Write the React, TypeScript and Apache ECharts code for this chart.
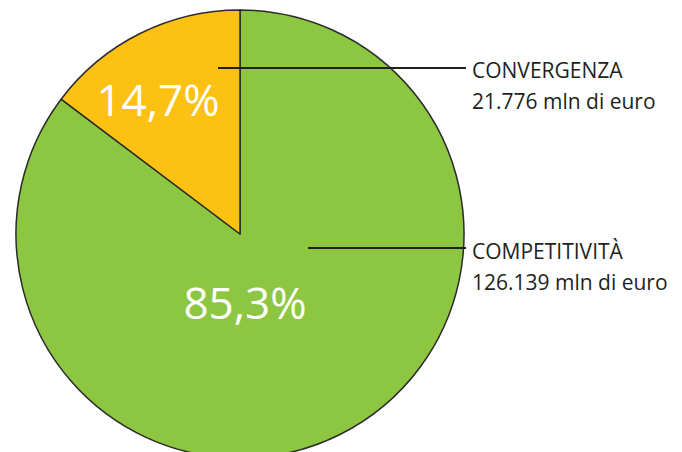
import React, { useEffect, useRef } from "react";
import * as echarts from "echarts";

const categories = ["COMPETITIVITÀ", "CONVERGENZA"];
const values = [126139, 21776];
const valueLabels = ["126.139 mln di euro", "21.776 mln di euro"];
const colors = ["#8DC641", "#FDC113"];

export default function App() {
  const ref = useRef<HTMLDivElement>(null);
  useEffect(() => {
    if (!ref.current) return;
    const chart = echarts.init(ref.current, null, { renderer: "svg" });
    const pctPos = [
      { x: 245, y: 302 },
      { x: 158, y: 99 },
    ];
    const callouts = [
      { x1: 308, y: 248, ty: 251 },
      { x1: 218, y: 68, ty: 70 },
    ];
    const graphics: any[] = [];
    categories.forEach((c, i) => {
      const co = callouts[i];
      graphics.push({
        type: "line",
        shape: { x1: co.x1, y1: co.y, x2: 466, y2: co.y },
        style: { stroke: "#231f20", lineWidth: 2 },
        z: 10,
      });
      graphics.push({
        type: "text",
        x: 472,
        y: co.ty,
        style: {
          text: c,
          fill: "#231f20",
          font: "21px 'Open Sans'",
          textVerticalAlign: "middle",
        },
      });
      graphics.push({
        type: "text",
        x: 472,
        y: co.ty + 31,
        style: {
          text: valueLabels[i],
          fill: "#231f20",
          font: "21px 'Open Sans'",
          textVerticalAlign: "middle",
        },
      });
    });
    chart.setOption({
      animation: false,
      graphic: graphics,
      series: [
        {
          type: "pie",
          center: [240, 234],
          radius: 224,
          startAngle: 90,
          clockwise: true,
          silent: true,
          data: categories.map((c, i) => ({
            name: c,
            value: values[i],
            itemStyle: { color: colors[i] },
          })),
          itemStyle: { borderColor: "#2b2b2b", borderWidth: 1.5 },
          label: {
            show: true,
            position: "inside",
            color: "#ffffff",
            fontFamily: "Open Sans",
            fontSize: 44,
            formatter: (p: any) => p.percent.toFixed(1).replace(".", ",") + "%",
          },
          labelLine: { show: false },
          labelLayout: (p: any) => ({
            x: pctPos[p.dataIndex].x,
            y: pctPos[p.dataIndex].y,
            align: "center",
            verticalAlign: "middle",
          }),
        },
      ],
    });
    return () => chart.dispose();
  }, []);
  return (
    <div
      ref={ref}
      style={{ position: "fixed", left: 0, top: 0, width: 682, height: 452, background: "#fff" }}
    />
  );
}
